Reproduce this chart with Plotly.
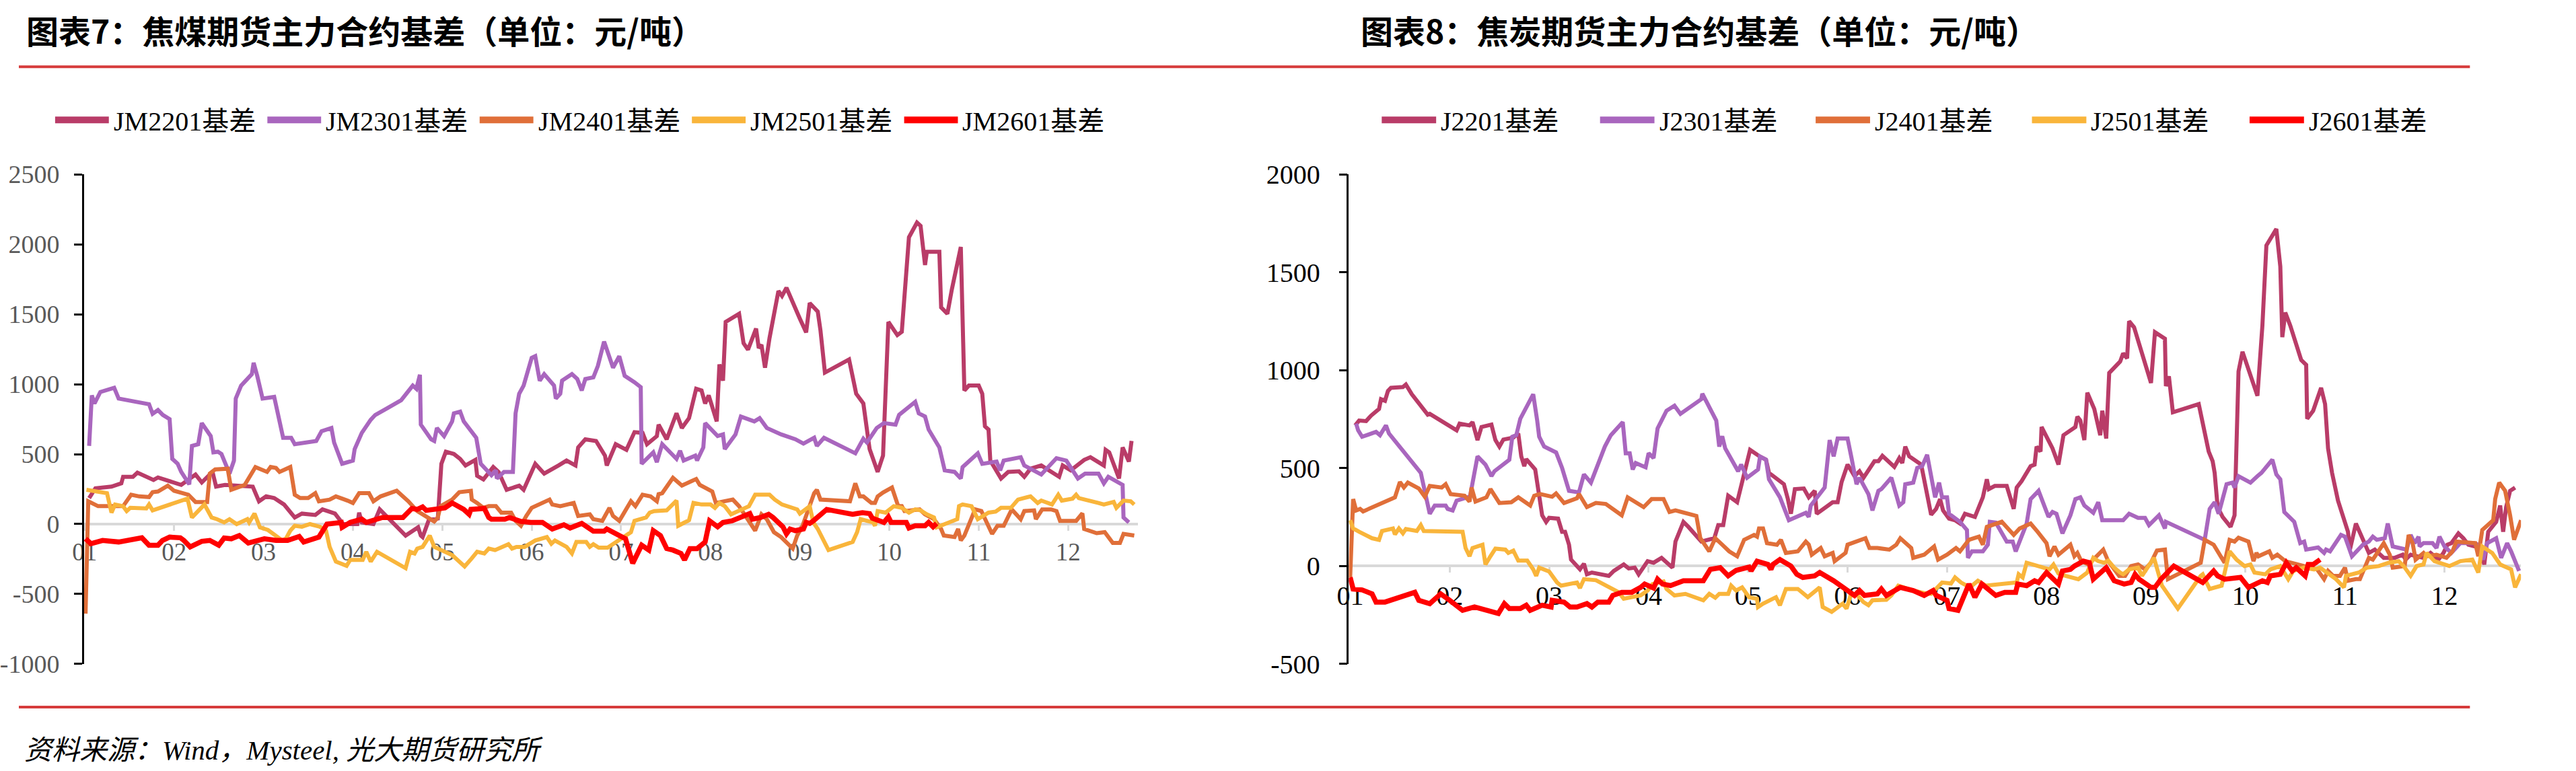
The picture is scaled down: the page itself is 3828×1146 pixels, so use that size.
import plotly.graph_objects as go

# ---------------- data (x = month position, 0 = start of Jan) ----------------
month_labels = ["01", "02", "03", "04", "05", "06", "07", "08", "09", "10", "11", "12"]
month_ticks = list(range(12))

left_names = ["JM2201基差", "JM2301基差", "JM2401基差", "JM2501基差", "JM2601基差"]
right_names = ["J2201基差", "J2301基差", "J2401基差", "J2501基差", "J2601基差"]

left_yticks = [-1000, -500, 0, 500, 1000, 1500, 2000, 2500]
left_ytext = ["-1000", "-500", "0", "500", "1000", "1500", "2000", "2500"]
right_yticks = [-500, 0, 500, 1000, 1500, 2000]
right_ytext = ["-500", "0", "500", "1000", "1500", "2000"]

jm2201_m = [0.05,0.12,0.3,0.41,0.43,0.54,0.59,0.77,0.82,1.08,1.24,1.31,1.43,1.47,1.57,1.68,1.88,1.95,2.03,2.12,2.23,2.35,2.43,2.58,2.66,2.8,2.89,3.05,3.07,3.1,3.23,3.3,3.59,3.73,3.76,3.78,3.85,3.95,3.99,4.04,4.13,4.2,4.26,4.37,4.39,4.46,4.57,4.63,4.72,4.86,4.91,5.04,5.14,5.3,5.39,5.49,5.52,5.6,5.72,5.82,5.84,5.94,6.06,6.15,6.24,6.29,6.4,6.42,6.51,6.62,6.68,6.76,6.84,6.9,6.94,6.98,7.07,7.1,7.14,7.17,7.32,7.37,7.42,7.51,7.54,7.57,7.61,7.66,7.76,7.8,7.85,8.0,8.07,8.11,8.2,8.23,8.28,8.55,8.63,8.71,8.78,8.87,8.93,8.99,9.09,9.14,9.22,9.31,9.35,9.4,9.42,9.56,9.58,9.65,9.7,9.8,9.84,9.89,10.0,10.04,10.07,10.11,10.13,10.25,10.33,10.45,10.51,10.58,10.7,10.9,10.94,11.03,11.18,11.25,11.4,11.42,11.46,11.57,11.61,11.68,11.71]
jm2201_v = [186,256,268,291,338,338,368,315,333,280,354,298,373,268,280,275,268,163,198,186,140,47,75,65,105,75,0,0,82,12,0,105,-82,-23,-82,-93,30,40,431,517,501,466,419,459,345,319,408,373,245,275,245,431,361,419,454,419,548,606,594,489,419,571,531,657,652,571,629,711,606,792,687,757,967,955,862,920,734,1142,1025,1445,1503,1293,1247,1398,1258,1282,1118,1328,1666,1631,1689,1468,1370,1580,1519,1386,1083,1177,932,862,536,373,489,1445,1351,1375,2050,2155,2132,1852,1946,1946,1549,1503,1678,1981,955,990,990,932,699,676,454,326,373,377,338,396,419,338,419,384,459,478,419,531,513,326,548,447,594]

jm2301_m = [0.05,0.08,0.11,0.175,0.33,0.38,0.72,0.76,0.82,0.875,0.95,0.98,1.04,1.08,1.17,1.2,1.27,1.31,1.41,1.44,1.49,1.53,1.62,1.67,1.69,1.75,1.87,1.89,1.93,1.99,2.12,2.22,2.31,2.35,2.59,2.65,2.76,2.79,2.88,3.0,3.02,3.1,3.2,3.25,3.38,3.54,3.67,3.71,3.75,3.76,3.875,3.91,3.94,4.02,4.11,4.13,4.2,4.24,4.38,4.43,4.55,4.6,4.61,4.69,4.79,4.82,4.86,4.91,5.0,5.04,5.09,5.14,5.25,5.27,5.32,5.34,5.45,5.51,5.56,5.6,5.69,5.74,5.81,5.91,5.98,6.04,6.15,6.22,6.23,6.36,6.4,6.46,6.62,6.66,6.7,6.83,6.85,6.92,6.94,7.02,7.08,7.14,7.16,7.28,7.34,7.49,7.55,7.63,7.79,7.95,8.04,8.16,8.19,8.27,8.62,8.71,8.75,8.86,8.94,9.07,9.11,9.29,9.33,9.4,9.44,9.56,9.62,9.73,9.8,9.82,9.99,10.04,10.2,10.24,10.28,10.47,10.51,10.7,10.87,10.98,11.11,11.19,11.34,11.4,11.45,11.61,11.62,11.68]
jm2301_v = [559,920,862,944,974,897,857,788,815,780,750,466,431,373,284,559,571,722,629,513,517,501,361,454,897,990,1072,1153,1060,897,909,617,617,571,594,664,687,583,431,454,536,652,746,780,827,885,990,967,1067,711,606,594,687,629,734,792,804,734,617,431,349,384,326,373,373,792,932,990,1188,1200,1025,1072,990,897,932,1025,1072,1037,955,1037,1049,1130,1305,1118,1200,1060,1014,979,431,513,443,571,466,524,454,489,454,548,722,664,629,641,536,641,769,734,757,687,641,606,575,617,559,617,506,610,583,687,722,711,781,874,792,769,676,548,384,373,326,408,506,431,447,384,454,478,419,354,471,454,326,361,361,291,338,280,47,12]

jm2401_m = [0.01,0.04,0.15,0.43,0.52,0.61,0.72,0.76,0.82,0.93,1.0,1.16,1.24,1.37,1.4,1.46,1.6,1.64,1.79,1.84,1.91,2.04,2.08,2.14,2.18,2.3,2.35,2.41,2.5,2.58,2.62,2.74,2.81,2.94,3.0,3.07,3.18,3.23,3.31,3.49,3.62,3.72,3.85,3.91,3.95,3.98,4.11,4.19,4.32,4.33,4.39,4.46,4.52,4.6,4.66,4.77,4.82,4.88,4.94,5.0,5.2,5.23,5.32,5.47,5.52,5.65,5.69,5.79,5.87,5.91,5.98,6.11,6.16,6.24,6.33,6.4,6.42,6.46,6.58,6.63,6.68,6.79,6.84,6.88,7.02,7.06,7.25,7.32,7.5,7.57,7.63,7.71,7.79,7.92,7.97,8.03,8.16,8.19,8.23,8.56,8.62,8.67,8.71,8.8,8.84,8.87,8.93,9.03,9.1,9.14,9.17,9.34,9.4,9.5,9.58,9.61,9.73,9.77,9.8,9.84,9.96,10.03,10.15,10.21,10.28,10.37,10.47,10.51,10.62,10.64,10.71,10.81,10.87,10.91,11.09,11.16,11.18,11.32,11.41,11.5,11.58,11.62,11.74]
jm2401_v = [-640,163,128,128,210,198,193,228,233,275,238,210,158,158,361,391,396,245,280,338,408,373,408,401,373,408,210,186,186,221,163,175,198,168,151,221,221,163,198,238,163,93,47,19,47,128,175,228,238,175,151,116,128,128,82,82,23,-12,58,116,175,140,128,151,58,70,35,23,116,58,23,163,128,210,198,163,214,221,331,303,275,308,322,280,233,151,175,128,-47,70,35,-58,-93,-175,-82,-12,221,245,175,163,291,198,198,151,151,198,226,261,128,128,93,105,70,35,-35,-82,-93,-35,-117,-82,105,93,-70,-12,-12,105,35,93,98,35,105,105,93,23,23,77,-35,-65,-58,-135,-135,-70,-82]

jm2501_m = [0.02,0.25,0.3,0.34,0.43,0.47,0.51,0.56,0.69,0.72,0.76,1.15,1.2,1.34,1.42,1.48,1.56,1.62,1.7,1.82,1.84,1.9,1.96,2.05,2.13,2.21,2.25,2.3,2.35,2.43,2.52,2.63,2.7,2.74,2.81,2.93,2.97,3.11,3.15,3.2,3.27,3.37,3.59,3.64,3.69,3.72,3.78,3.86,3.91,4.11,4.25,4.33,4.39,4.47,4.52,4.59,4.74,4.78,4.83,4.92,5.04,5.17,5.22,5.26,5.39,5.45,5.5,5.61,5.65,5.69,5.75,5.85,5.92,6.02,6.11,6.15,6.28,6.32,6.37,6.51,6.62,6.64,6.76,6.81,6.9,7.0,7.05,7.1,7.16,7.23,7.43,7.5,7.66,7.72,7.8,7.97,8.0,8.11,8.15,8.2,8.32,8.59,8.64,8.68,8.82,8.84,8.87,8.96,9.05,9.14,9.22,9.29,9.35,9.42,9.5,9.53,9.66,9.76,9.78,9.82,9.92,9.99,10.11,10.19,10.25,10.36,10.44,10.58,10.66,10.7,10.82,10.89,10.93,11.05,11.09,11.12,11.34,11.4,11.51,11.54,11.62,11.7,11.74]
jm2501_v = [245,221,82,140,128,93,116,116,112,140,98,182,47,140,47,35,12,35,0,35,12,75,-23,-42,-82,-117,-105,-47,-12,-19,0,-19,-47,-163,-268,-298,-256,-256,-198,-268,-198,-233,-315,-198,-210,-175,-163,-82,-163,-221,-303,-245,-198,-210,-175,-186,-144,-175,-163,-163,-117,-93,-140,-117,-163,-210,-128,-128,-163,-144,-168,-168,-140,-93,-58,23,47,82,93,98,168,-12,28,151,140,140,116,151,128,70,128,210,210,175,140,105,75,128,12,-35,-186,-128,-58,35,12,-12,93,82,128,116,82,105,98,70,47,-23,12,35,128,140,128,35,82,89,116,116,175,198,151,168,140,210,168,182,210,186,151,140,158,116,168,163,140]

jm2601_m = [0.01,0.07,0.2,0.38,0.64,0.72,0.82,0.87,0.95,1.07,1.11,1.18,1.31,1.4,1.5,1.56,1.64,1.73,1.83,2.01,2.14,2.27,2.4,2.45,2.62,2.71,2.87,2.88,2.97,3.1,3.15,3.33,3.56,3.66,3.72,3.78,3.82,3.89,4.03,4.11,4.24,4.3,4.32,4.47,4.52,4.55,4.7,4.75,4.88,4.99,5.12,5.23,5.32,5.36,5.43,5.56,5.69,5.81,5.84,6.05,6.13,6.23,6.31,6.36,6.44,6.51,6.58,6.67,6.71,6.77,6.85,6.94,6.99,7.08,7.14,7.24,7.44,7.47,7.56,7.65,7.7,7.78,7.81,7.85,7.89,7.95,8.04,8.07,8.11,8.15,8.21,8.3,8.59,8.7,8.78,8.81,8.94,8.99,9.02,9.13,9.19,9.22,9.29,9.4,9.44,9.49,9.53]
jm2601_v = [-105,-140,-117,-128,-98,-151,-151,-117,-93,-98,-117,-163,-123,-117,-151,-100,-105,-82,-135,-105,-117,-117,-89,-128,-93,0,12,-23,12,35,12,47,47,112,105,123,98,105,116,151,105,70,105,112,47,35,35,47,19,12,12,-35,-12,-5,-28,5,-51,-51,-35,-105,-280,-151,-186,-47,-82,-175,-186,-210,-256,-175,-175,-128,23,-19,12,23,75,35,47,70,47,0,-19,-70,-35,-47,-35,12,5,23,58,105,70,82,75,42,12,51,12,12,12,-28,-12,-12,12,-19,5]

j2201_m = [0.05,0.09,0.16,0.21,0.29,0.31,0.35,0.38,0.41,0.53,0.56,0.62,0.78,0.8,1.07,1.1,1.2,1.23,1.28,1.32,1.42,1.46,1.5,1.54,1.64,1.69,1.72,1.75,1.77,1.86,1.93,1.97,2.0,2.09,2.13,2.16,2.2,2.22,2.31,2.35,2.38,2.43,2.6,2.65,2.75,2.8,2.86,2.9,2.99,3.05,3.13,3.24,3.27,3.35,3.4,3.53,3.66,3.7,3.75,3.8,3.89,3.94,4.02,4.12,4.18,4.21,4.36,4.4,4.43,4.47,4.56,4.61,4.67,4.69,4.85,4.9,4.94,5.0,5.07,5.12,5.16,5.27,5.31,5.35,5.47,5.52,5.55,5.58,5.62,5.74,5.79,5.84,5.89,5.93,5.96,6.02,6.08,6.13,6.18,6.28,6.36,6.4,6.42,6.48,6.6,6.67,6.7,6.75,6.84,6.88,6.9,6.94,6.95,7.06,7.12,7.17,7.29,7.31,7.34,7.38,7.41,7.48,7.54,7.56,7.6,7.63,7.74,7.77,7.81,7.83,7.88,8.0,8.05,8.09,8.19,8.2,8.23,8.27,8.53,8.63,8.67,8.69,8.72,8.77,8.85,8.89,8.93,8.97,9.12,9.17,9.2,9.21,9.31,9.35,9.37,9.4,9.45,9.56,9.61,9.62,9.68,9.76,9.8,9.83,9.87,9.93,10.03,10.05,10.11,10.2,10.24,10.3,10.39,10.5,10.58,10.61,10.66,10.79,10.86,10.94,10.99,11.03,11.07,11.14,11.19,11.24,11.31,11.36,11.4,11.44,11.52,11.56,11.59,11.62,11.66,11.71]
j2201_v = [718,743,740,768,802,852,844,894,910,914,927,877,773,777,693,727,718,735,643,710,722,643,610,646,656,677,560,510,546,493,259,225,246,242,175,175,109,33,-17,12,-42,-33,-50,-25,8,-12,-8,-42,25,17,42,-8,125,225,200,125,142,209,209,359,326,426,593,559,543,476,418,342,267,393,396,351,384,267,326,326,429,518,459,484,451,535,535,563,506,551,526,610,560,518,401,262,292,342,284,242,234,217,267,251,351,443,393,409,409,292,401,434,510,518,610,585,710,601,518,668,710,763,743,643,885,802,668,793,651,986,1044,1086,1061,1250,1219,1027,935,1194,1161,919,969,785,827,585,535,476,301,251,200,259,994,1094,869,1228,1478,1637,1721,1529,1169,1294,1228,1052,1027,752,793,910,827,601,476,334,175,84,217,109,67,84,42,42,58,33,58,42,67,33,67,109,117,167,142,109,100,84,8,175,226,309,175,301,384,401]

j2301_m = [0.06,0.08,0.12,0.26,0.3,0.36,0.39,0.71,0.76,0.8,0.85,0.96,0.98,1.03,1.07,1.18,1.2,1.28,1.36,1.42,1.45,1.51,1.6,1.63,1.67,1.71,1.84,1.88,1.9,1.95,2.07,2.13,2.2,2.3,2.35,2.42,2.56,2.62,2.74,2.77,2.81,2.84,2.87,2.97,3.0,3.05,3.09,3.18,3.26,3.32,3.53,3.54,3.64,3.68,3.71,3.74,3.77,3.9,3.93,3.99,4.1,4.12,4.18,4.21,4.32,4.41,4.58,4.61,4.63,4.77,4.82,4.86,4.9,5.0,5.04,5.09,5.12,5.21,5.25,5.31,5.34,5.44,5.52,5.56,5.58,5.66,5.7,5.75,5.8,5.88,5.92,5.95,6.0,6.02,6.13,6.17,6.2,6.21,6.25,6.36,6.41,6.43,6.49,6.6,6.66,6.69,6.8,6.84,6.92,7.02,7.06,7.1,7.16,7.24,7.29,7.34,7.38,7.47,7.52,7.56,7.77,7.83,7.92,7.99,8.03,8.13,8.19,8.2,8.59,8.64,8.69,8.73,8.79,8.81,8.87,8.89,8.93,9.05,9.12,9.16,9.27,9.31,9.35,9.39,9.49,9.55,9.59,9.61,9.73,9.79,9.81,9.85,9.96,10.0,10.07,10.18,10.24,10.28,10.32,10.4,10.43,10.48,10.62,10.66,10.7,10.74,10.75,10.79,10.88,10.92,10.95,11.0,11.07,11.16,11.3,11.34,11.39,11.43,11.52,11.57,11.63,11.67,11.75]
j2301_v = [727,693,660,685,668,718,677,476,359,267,309,309,292,284,334,351,342,560,518,459,484,510,543,660,668,752,877,743,660,610,580,501,384,376,468,426,610,668,735,576,576,493,526,504,576,551,702,793,819,777,852,880,777,743,610,663,601,484,518,451,493,559,543,443,351,234,272,251,309,401,643,560,651,651,551,418,451,367,284,384,393,451,309,326,418,426,501,510,568,351,426,351,351,267,226,200,184,42,75,75,109,226,222,125,125,75,217,342,384,251,276,267,167,259,342,351,309,272,326,234,234,267,246,246,209,259,192,226,134,292,326,267,376,418,426,401,459,426,459,476,543,468,443,276,226,117,125,84,95,67,84,75,159,150,50,109,125,150,134,142,217,100,84,159,117,150,100,117,117,92,150,100,67,117,117,109,33,117,142,42,117,75,-25]

j2401_m = [0.0,0.03,0.06,0.1,0.13,0.45,0.5,0.54,0.58,0.69,0.75,0.8,0.92,0.96,1.01,1.15,1.2,1.22,1.26,1.37,1.41,1.5,1.62,1.69,1.81,1.85,1.91,2.03,2.07,2.15,2.28,2.3,2.38,2.47,2.57,2.73,2.79,2.95,3.03,3.15,3.21,3.27,3.48,3.52,3.61,3.67,3.74,3.81,3.89,3.96,4.06,4.09,4.11,4.15,4.19,4.29,4.33,4.38,4.5,4.58,4.61,4.64,4.73,4.77,4.85,4.87,4.98,5.0,5.18,5.22,5.3,5.42,5.49,5.53,5.64,5.66,5.77,5.87,5.91,6.0,6.09,6.13,6.22,6.32,6.36,6.4,6.55,6.67,6.73,6.84,6.91,7.0,7.03,7.08,7.12,7.24,7.28,7.31,7.35,7.42,7.57,7.62,7.73,7.79,7.85,7.92,7.99,8.05,8.11,8.19,8.22,8.55,8.59,8.63,8.68,8.79,8.84,8.89,8.93,9.03,9.08,9.11,9.13,9.24,9.27,9.32,9.4,9.53,9.64,9.72,9.79,9.83,9.88,9.95,10.0,10.03,10.11,10.15,10.24,10.28,10.39,10.45,10.48,10.6,10.64,10.68,10.71,10.79,10.82,10.92,11.02,11.08,11.12,11.31,11.34,11.38,11.49,11.51,11.55,11.61,11.66,11.7,11.77]
j2401_v = [-58,342,284,292,279,351,429,401,426,396,354,409,401,418,367,359,329,401,329,351,393,322,326,351,309,359,368,354,371,322,346,368,301,322,317,259,351,301,342,342,276,284,256,142,75,142,109,75,50,134,159,150,192,192,117,109,134,67,75,125,109,58,92,50,67,25,67,109,142,92,92,84,109,142,92,42,58,100,33,58,92,75,134,150,109,200,226,159,192,217,175,117,50,100,58,109,50,67,25,8,84,25,-50,-50,0,8,-17,17,79,84,-67,17,134,125,109,17,134,125,145,125,25,67,50,75,42,58,25,8,-5,-17,-67,-25,-50,-50,-8,-75,-67,-67,42,33,117,58,-8,0,159,117,33,67,50,58,42,75,125,117,50,184,234,342,426,384,259,134,234]

j2501_m = [0.0,0.03,0.09,0.22,0.29,0.32,0.43,0.45,0.49,0.53,0.56,0.67,0.71,0.74,1.13,1.16,1.2,1.23,1.33,1.36,1.41,1.46,1.56,1.59,1.64,1.69,1.78,1.84,1.87,1.9,2.0,2.08,2.12,2.21,2.28,2.31,2.35,2.47,2.57,2.7,2.75,2.92,2.99,3.04,3.15,3.18,3.26,3.37,3.55,3.61,3.67,3.71,3.8,3.83,3.88,3.94,4.01,4.09,4.1,4.15,4.28,4.32,4.38,4.5,4.52,4.6,4.72,4.75,4.84,4.95,4.99,5.03,5.1,5.16,5.21,5.25,5.39,5.44,5.51,5.6,5.66,5.78,5.84,5.95,6.04,6.08,6.14,6.23,6.31,6.39,6.51,6.57,6.7,6.72,6.76,6.8,6.86,6.95,7.03,7.07,7.12,7.19,7.32,7.41,7.47,7.52,7.58,7.62,7.68,7.74,7.77,7.83,7.92,7.96,8.08,8.16,8.21,8.32,8.55,8.57,8.64,8.76,8.84,8.91,8.99,9.05,9.09,9.2,9.25,9.35,9.43,9.48,9.59,9.69,9.75,9.85,9.91,9.99,10.01,10.14,10.22,10.34,10.44,10.54,10.59,10.66,10.72,10.79,10.82,10.9,11.05,11.16,11.28,11.34,11.38,11.48,11.56,11.67,11.71,11.77]
j2501_v = [234,192,175,142,134,179,192,162,192,167,189,179,209,179,175,92,50,92,109,8,50,89,84,67,79,28,28,-17,-50,-8,-28,-84,-100,-92,-84,-112,-67,-72,-100,-134,-167,-150,-125,-92,-79,-117,-150,-142,-175,-142,-162,-142,-142,-100,-125,-109,-159,-167,-209,-192,-159,-200,-117,-117,-125,-159,-109,-209,-234,-192,-217,-150,-150,-184,-200,-175,-172,-150,-100,-117,-125,-139,-142,-84,-89,-58,-84,-109,-75,-100,-95,-89,-84,-42,-58,17,8,-8,-17,8,-38,-50,-67,-33,42,25,17,28,-8,-33,-42,-17,-8,-50,42,-100,-134,-217,-50,-42,-117,-100,75,33,0,8,-33,-42,-17,0,-67,-25,-8,-17,-8,-42,-67,-109,-50,-33,-8,0,17,25,0,-50,0,8,67,25,0,25,33,-33,100,67,8,-17,-109,-42]

j2601_m = [0.0,0.03,0.12,0.22,0.26,0.35,0.65,0.69,0.8,0.91,1.0,1.13,1.25,1.37,1.49,1.55,1.6,1.71,1.77,1.81,1.93,2.02,2.03,2.15,2.21,2.28,2.38,2.43,2.49,2.6,2.64,2.73,2.83,2.92,2.96,3.05,3.09,3.14,3.22,3.35,3.55,3.62,3.72,3.8,3.88,4.01,4.03,4.09,4.2,4.23,4.25,4.32,4.43,4.49,4.55,4.67,4.72,4.86,4.99,5.07,5.12,5.17,5.3,5.34,5.39,5.53,5.66,5.77,5.86,5.89,6.0,6.02,6.11,6.22,6.28,6.35,6.49,6.58,6.69,6.71,6.8,6.88,6.92,7.0,7.12,7.16,7.24,7.28,7.37,7.43,7.47,7.6,7.68,7.78,7.85,7.89,7.93,8.05,8.09,8.15,8.28,8.57,8.68,8.72,8.79,8.95,9.03,9.17,9.22,9.25,9.35,9.41,9.47,9.51,9.6,9.63,9.68,9.75]
j2601_v = [-58,-117,-122,-142,-184,-184,-134,-175,-192,-142,-175,-226,-209,-226,-242,-192,-217,-217,-200,-226,-200,-209,-175,-184,-209,-209,-192,-209,-184,-184,-150,-134,-134,-109,-92,-112,-67,-92,-100,-75,-75,-17,-8,-50,-22,-5,-25,25,8,-17,8,33,0,-42,-58,-50,-33,-75,-117,-150,-125,-150,-142,-117,-150,-109,-125,-150,-125,-150,-175,-217,-226,-92,-159,-92,-150,-134,-134,-92,-100,-75,-84,-33,-92,-25,-17,0,25,17,-67,-8,-75,-92,-84,-42,-67,-109,-109,-67,0,-84,-25,-50,-67,-58,-109,-75,-84,-50,-42,17,-25,-8,-50,8,8,33]

# ---------------- styling ----------------
W, H = 3828, 1146
colors = ["#B93C68", "#A966BE", "#E06F39", "#F9B53B", "#FF0000"]
widths = [6, 6, 6, 6, 7.5]
serif = "Liberation Serif, Noto Sans CJK SC, serif"
cjk = "Noto Sans CJK SC, sans-serif"


def px(x):
    # target pixel (x) -> paper fraction, with small correction for capture scaling
    return ((x - 20) / 0.9945) / W


def py(y):
    return 1 - ((y - 20.8) / 0.961) / H


fig = go.Figure()

left_series = [(jm2201_m, jm2201_v), (jm2301_m, jm2301_v), (jm2401_m, jm2401_v),
               (jm2501_m, jm2501_v), (jm2601_m, jm2601_v)]
right_series = [(j2201_m, j2201_v), (j2301_m, j2301_v), (j2401_m, j2401_v),
                (j2501_m, j2501_v), (j2601_m, j2601_v)]

for i, (m, v) in enumerate(left_series):
    fig.add_trace(go.Scatter(x=m, y=v, mode="lines", name=left_names[i],
                             line=dict(color=colors[i], width=widths[i]),
                             xaxis="x", yaxis="y", showlegend=False))
for i, (m, v) in enumerate(right_series):
    fig.add_trace(go.Scatter(x=m, y=v, mode="lines", name=right_names[i],
                             line=dict(color=colors[i], width=widths[i]),
                             xaxis="x2", yaxis="y2", showlegend=False))

ydom = [py(986), py(258)]

common_x = dict(anchor="free", showline=True, linecolor="#D9D9D9", linewidth=4,
                ticks="outside", tickcolor="#D9D9D9", ticklen=8, tickwidth=3,
                tickvals=month_ticks, ticktext=month_labels, showgrid=False,
                zeroline=False, layer="below traces")
common_y = dict(showline=True, linecolor="black", linewidth=2.5, ticks="outside",
                ticklen=12, tickwidth=3, tickcolor="black", showgrid=False,
                zeroline=False, domain=ydom)

fig.update_layout(
    width=W, height=H, margin=dict(l=0, r=0, t=0, b=0),
    paper_bgcolor="white", plot_bgcolor="white", showlegend=False,
    xaxis=dict(common_x, domain=[px(117), px(1686)], range=[-0.0075, 11.781],
               position=py(778), tickfont=dict(family=serif, size=37, color="#595959")),
    yaxis=dict(common_y, anchor="x", range=[-1000, 2500],
               tickvals=left_yticks, ticktext=left_ytext,
               tickfont=dict(family=serif, size=38, color="#595959"), ticklabelstandoff=14),
    xaxis2=dict(common_x, domain=[px(2000), px(3745)], range=[-0.0135, 11.769],
                position=py(840.4), tickfont=dict(family=serif, size=40, color="black")),
    yaxis2=dict(common_y, anchor="x2", range=[-500, 2000],
                tickvals=right_yticks, ticktext=right_ytext,
                tickfont=dict(family=serif, size=40, color="black"), ticklabelstandoff=20),
)

# titles, separators, source
title_y = 1 - 23 / H   # keep the whole title box inside the page
annotations = [
    dict(text="<b>图表7：焦煤期货主力合约基差（单位：元/吨）</b>", x=px(29), y=title_y,
         xanchor="left", yanchor="middle", font=dict(family=cjk, size=48, color="black")),
    dict(text="<b>图表8：焦炭期货主力合约基差（单位：元/吨）</b>", x=px(2016), y=title_y,
         xanchor="left", yanchor="middle", font=dict(family=cjk, size=48, color="black")),
    dict(text="<i>资料来源：Wind，Mysteel, 光大期货研究所</i>", x=px(26), y=py(1114),
         xanchor="left", yanchor="middle", font=dict(family=serif, size=41, color="black")),
]
shapes = [
    dict(type="line", xref="paper", yref="paper", x0=0, x1=px(3669), y0=py(98), y1=py(98),
         line=dict(color="#D63B3B", width=4)),
    dict(type="line", xref="paper", yref="paper", x0=0, x1=px(3669), y0=py(1050), y1=py(1050),
         line=dict(color="#D63B3B", width=4)),
]

# legends (line sample + label), one row for each chart
left_leg_x = [70, 386, 702, 1018, 1334]
right_leg_x = [2045, 2370, 2691, 3013, 3337]
leg_y = 177
for names, xs, seg in [(left_names, left_leg_x, 88), (right_names, right_leg_x, 89)]:
    for i, name in enumerate(names):
        shapes.append(dict(type="line", xref="paper", yref="paper",
                           x0=px(xs[i] + 4), x1=px(xs[i] + seg - 4), y0=py(leg_y), y1=py(leg_y),
                           line=dict(color=colors[i], width=10)))
        annotations.append(dict(text=name, x=px(xs[i] + seg + 1), y=py(leg_y + 2),
                                xanchor="left", yanchor="middle", showarrow=False,
                                font=dict(family=serif, size=40, color="black")))

for a in annotations:
    a.setdefault("showarrow", False)
    a["xref"] = "paper"
    a["yref"] = "paper"

fig.update_layout(annotations=annotations, shapes=shapes)
fig.write_html("out.html")
